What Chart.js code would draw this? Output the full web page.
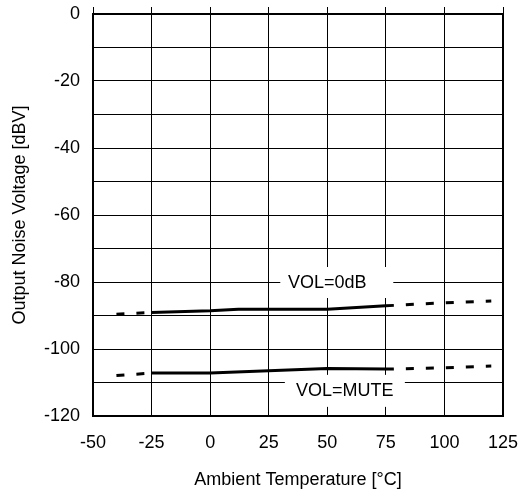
<!DOCTYPE html>
<html>
<head>
<meta charset="utf-8">
<script src="https://cdn.jsdelivr.net/npm/chart.js@4.4.1/dist/chart.umd.min.js"></script>
<style>
  html, body { margin: 0; padding: 0; background: #fff; }
  #wrap { width: 520px; height: 496px; }
</style>
</head>
<body>
<div id="wrap"><canvas id="noiseChart"></canvas></div>
<script>
// data
var temps0dB = [-40, -25, 0, 12, 50, 75, 100, 120];
var vol0dB = [-89.6, -89.1, -88.6, -88.1, -88.1, -87.1, -86.2, -85.7];
var tempsMute = [-40, -25, 0, 50, 75, 100, 120];
var volMute = [-107.9, -107.2, -107.2, -105.8, -106.0, -105.6, -105.1];
var xTicks = [-50, -25, 0, 25, 50, 75, 100, 125];
var yTicks = [0, -20, -40, -60, -80, -100, -120];

// solid only inside the guaranteed range, dashed outside
var solidFrom = -25, solidTo = 75;

function toPoints(xs, ys) {
  return xs.map(function (x, i) { return { x: x, y: ys[i] }; });
}

var FONT = "'Liberation Sans', Arial, sans-serif";

// text labels with white boxes (box offsets in px around the anchor)
var curveLabels = [
  { text: 'VOL=0dB', x: 50, y: -80, box: [-47, 66, -15, 16] },
  { text: 'VOL=MUTE', x: 57.5, y: -112.2, box: [-60, 60, -15, 17] }
];

var labelPlugin = {
  id: 'curveLabels',
  beforeDatasetsDraw: function (chart) {
    var c = chart.ctx, xs = chart.scales.x, ys = chart.scales.y;
    c.save();
    c.font = '18px ' + FONT;
    c.textAlign = 'center';
    c.textBaseline = 'middle';
    curveLabels.forEach(function (l) {
      var px = xs.getPixelForValue(l.x), py = ys.getPixelForValue(l.y);
      c.fillStyle = '#fff';
      c.fillRect(px + l.box[0], py + l.box[2], l.box[1] - l.box[0], l.box[3] - l.box[2]);
      c.fillStyle = '#000';
      c.fillText(l.text, px, py + 1);
    });
    c.restore();
  }
};

var dashSeg = {
  borderDash: function (ctx) {
    var a = ctx.p0.parsed.x, b = ctx.p1.parsed.x;
    return (b <= solidFrom || a >= solidTo) ? [8, 12] : undefined;
  }
};

var ctx = document.getElementById("noiseChart");
var noiseChart = new Chart(ctx, {
  type: 'line',
  data: {
    datasets: [{
        label: 'VOL=0dB',
        data: toPoints(temps0dB, vol0dB),
        borderColor: '#000',
        borderWidth: 3,
        pointRadius: 0,
        lineTension: 0,
        fill: false,
        segment: dashSeg
      }, {
        label: 'VOL=MUTE',
        data: toPoints(tempsMute, volMute),
        borderColor: '#000',
        borderWidth: 3,
        pointRadius: 0,
        lineTension: 0,
        fill: false,
        segment: dashSeg
      }
    ]
  },
  options: {
    responsive: true,
    maintainAspectRatio: false,
    animation: false,
    layout: { padding: { left: 0, right: 17, top: 7, bottom: 0 } },
    plugins: {
      legend: { display: false },
      tooltip: { enabled: false }
    },
    scales: {
      x: {
        type: 'linear',
        min: -50, max: 125,
        afterFit: function (s) { s.height = 80; },
        afterBuildTicks: function (s) { s.ticks = xTicks.map(function (v) { return { value: v }; }); },
        grid: {
          color: '#000',
          lineWidth: function (c) { return c.tick && c.tick.value === 125 ? 2 : 1; },
          drawTicks: true,
          tickLength: 16,
          tickColor: 'rgba(0,0,0,0)'
        },
        border: { color: '#000', width: 2 },
        ticks: { color: '#000', padding: 0, font: { family: FONT, size: 18 }, maxRotation: 0 },
        title: {
          display: true,
          text: 'Ambient Temperature [°C]',
          color: '#000',
          font: { family: FONT, size: 18 },
          padding: { top: 0, bottom: 5 }
        }
      },
      xTop: {
        type: 'linear',
        position: 'top',
        min: -50, max: 125,
        afterFit: function (s) { s.height = 7; },
        afterBuildTicks: function (s) { s.ticks = xTicks.map(function (v) { return { value: v }; }); },
        grid: { color: '#000', drawOnChartArea: false, drawTicks: true, tickLength: 7 },
        border: { color: '#000', width: 2 },
        ticks: { display: false }
      },
      y: {
        min: -120, max: 0,
        afterFit: function (s) { s.width = 93; },
        ticks: {
          stepSize: 10,
          color: '#000',
          padding: 0,
          font: { family: FONT, size: 18 },
          callback: function (v) { return yTicks.indexOf(v) >= 0 ? v : ''; }
        },
        grid: {
          color: '#000',
          lineWidth: function (c) { return c.tick && c.tick.value === 0 ? 2 : 1; },
          drawTicks: true,
          tickLength: 13,
          tickColor: 'rgba(0,0,0,0)'
        },
        border: { color: '#000', width: 2 },
        title: {
          display: true,
          text: 'Output Noise Voltage [dBV]',
          color: '#000',
          font: { family: FONT, size: 18 },
          padding: { top: 9, bottom: 0 }
        }
      }
    }
  },
  plugins: [labelPlugin]
});
</script>
</body>
</html>
